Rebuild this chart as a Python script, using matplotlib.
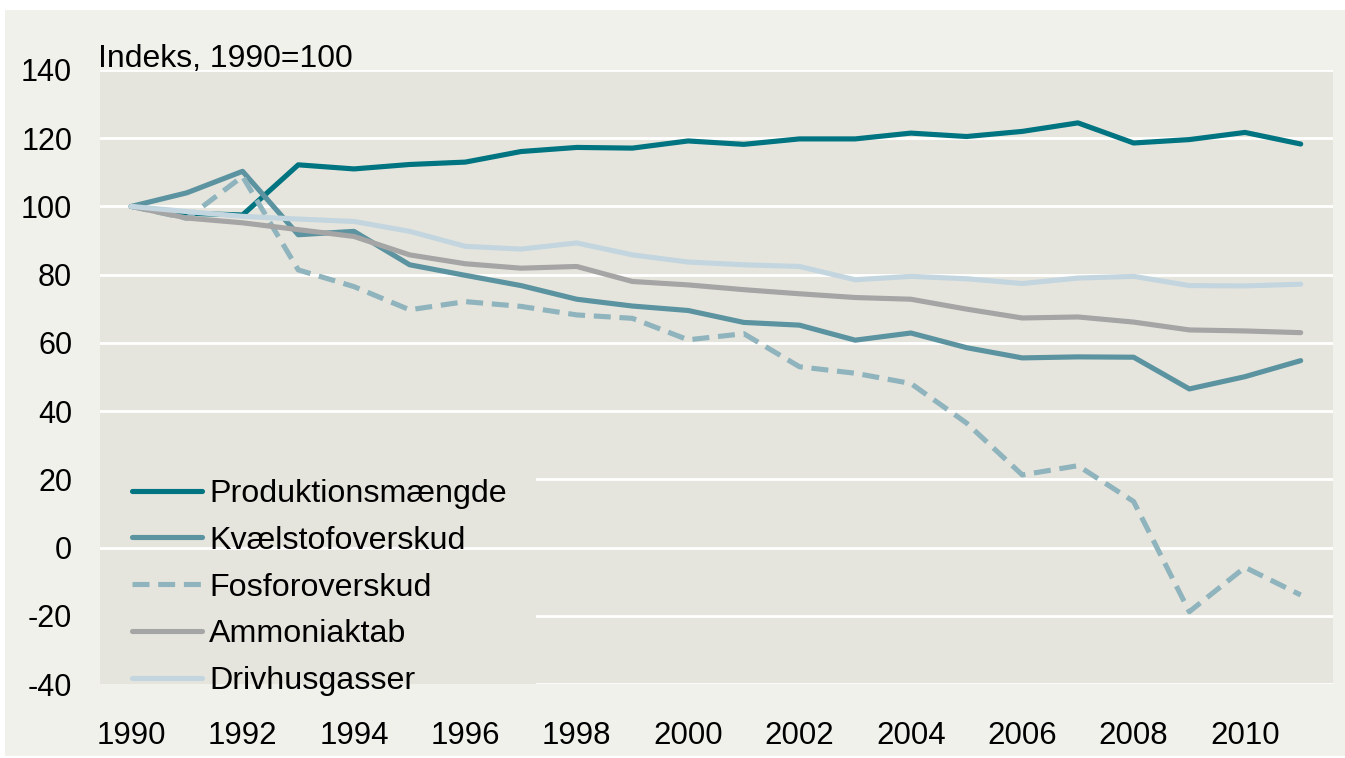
import matplotlib
matplotlib.use("Agg")
import matplotlib.pyplot as plt
from matplotlib.patches import Rectangle

plt.rcParams['font.family'] = ['Liberation Sans', 'DejaVu Sans']
plt.rcParams['axes.unicode_minus'] = False

# data
years = list(range(1990, 2012))
produktion = [100, 98, 97.5, 112.2, 111, 112.3, 113, 116.1, 117.3, 117.1, 119.2,
              118.2, 119.8, 119.8, 121.5, 120.5, 122, 124.5, 118.6, 119.6, 121.7, 118.3]
kvaelstof = [100, 104, 110.3, 91.7, 92.7, 82.9, 79.8, 76.8, 72.8, 70.8, 69.5,
             66.0, 65.2, 60.8, 62.9, 58.6, 55.6, 55.9, 55.8, 46.5, 50.1, 54.8]
fosfor = [100, 96.5, 108.8, 81.4, 76.5, 69.7, 72.1, 70.7, 68.2, 67.2, 60.9,
          62.7, 53.0, 51.1, 48.1, 36.5, 21.3, 24.0, 13.5, -18.8, -5.8, -13.9]
ammoniak = [100, 96.6, 95.2, 93.2, 91.2, 85.8, 83.2, 81.9, 82.4, 78.0, 77.0,
            75.6, 74.4, 73.3, 72.8, 69.9, 67.3, 67.6, 66.1, 63.8, 63.5, 63.0]
drivhus = [100, 98.5, 97.1, 96.3, 95.6, 92.7, 88.3, 87.5, 89.3, 85.8, 83.7,
           82.9, 82.4, 78.5, 79.5, 78.8, 77.4, 79.0, 79.5, 76.8, 76.7, 77.2]

labels = ['Produktionsmængde', 'Kvælstofoverskud', 'Fosforoverskud',
          'Ammoniaktab', 'Drivhusgasser']
series = [produktion, kvaelstof, fosfor, ammoniak, drivhus]
colors = ['#007480', '#5b93a0', '#8fb4bd', '#a5a5a5', '#c3d6df']
styles = ['-', '-', (0, (3.3, 1.7)), '-', '-']

yticks = list(range(-40, 141, 20))
xticks = list(range(1990, 2011, 2))

panel_bg = '#f1f1ec'
plot_bg = '#e6e5dd'

fig = plt.figure(figsize=(13.45, 7.58), dpi=100, facecolor='white')
fig.patches.append(Rectangle((5 / 1345, 2 / 758), 1340 / 1345, 746 / 758,
                             transform=fig.transFigure, facecolor=panel_bg,
                             edgecolor='none', zorder=-10))

ax = fig.add_axes([100 / 1345, 1 - 684 / 758, 1233 / 1345, 614 / 758])
ax.set_zorder(1)
ax.set_facecolor(plot_bg)

for s in ax.spines.values():
    s.set_visible(False)

# gitterlinjer
for v in yticks:
    ax.axhline(v, color='white', lw=2, zorder=1 if v != 0 else 4)

# legendens baggrund dækker gitteret
ax.add_patch(Rectangle((0, 0), 0.354, 0.357, transform=ax.transAxes,
                       facecolor=plot_bg, edgecolor='none', zorder=3))

for vals, lab, c, ls in zip(series, labels, colors, styles):
    ax.plot(years, vals, color=c, lw=3.7, linestyle=ls, label=lab,
            solid_capstyle='round', solid_joinstyle='round', zorder=5)

ax.set_xlim(1989.44, 2011.58)
ax.set_ylim(-40, 140)
ax.set_yticks(yticks)
ax.set_xticks(xticks)
ax.tick_params(axis='both', length=0)
ax.tick_params(axis='y', labelsize=22, pad=20)
ax.tick_params(axis='x', labelsize=22.5, pad=27)

fig.text(98 / 1345, 1 - 67 / 758, 'Indeks, 1990=100', fontsize=23,
         ha='left', va='baseline', zorder=5)

leg = ax.legend(loc='upper left', bbox_to_anchor=(132 / 1345, 1 - 479 / 758),
                bbox_transform=fig.transFigure, frameon=False, fontsize=23.2,
                handlelength=2.18, handletextpad=0.21, labelspacing=0.52,
                borderpad=0, borderaxespad=0)
leg.set_zorder(6)

plt.savefig('out.png', dpi=100, facecolor='white')
